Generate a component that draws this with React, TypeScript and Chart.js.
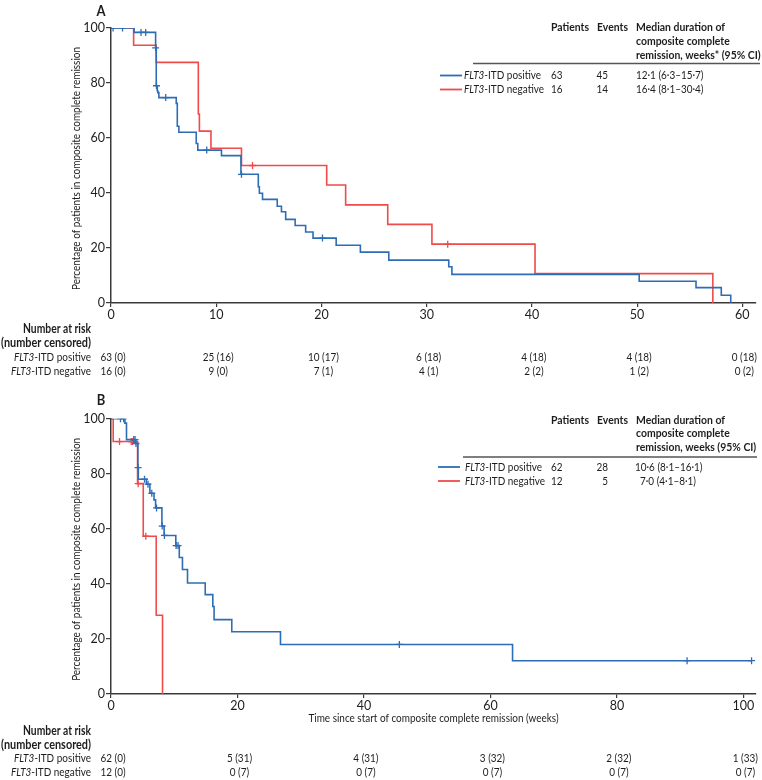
import React, { useEffect, useRef } from "react";
import { Chart, registerables } from "chart.js";

Chart.register(...registerables);

const FONT = 'Lato, "Open Sans", sans-serif';
const TEXT = "#1f1c1d";
const AXIS = "#3a3a3a";
const BLUE = "#2d6db5";
const RED = "#f04a4a";

// ---------- Panel A data ----------
const aPosTimes = [0, 2.2, 4.24, 4.3, 4.4, 4.45, 4.55, 6.2, 6.3, 6.45, 8.1, 8.25, 10.5, 12.35, 14.0, 14.1, 14.4, 15.8, 16.2, 16.6, 17.5, 18.5, 19.2, 21.4, 23.7, 26.4, 32.1, 32.4, 50.2, 55.6, 58.0, 58.9];
const aPosSurv = [100, 98.4, 92.8, 79.0, 77.2, 76.5, 74.7, 72.6, 64.3, 62.1, 58.0, 55.6, 53.6, 46.8, 42.3, 39.9, 37.7, 35.2, 33.2, 30.4, 28.2, 25.8, 23.6, 21.0, 18.5, 15.6, 13.2, 10.4, 7.9, 5.6, 2.8, 0];
const aPosCensTimes = [0.2, 1.1, 2.85, 3.3, 4.24, 4.32, 5.2, 9.1, 12.4, 20.1];
const aPosCensSurv = [100, 100, 98.4, 98.4, 92.8, 79.0, 74.7, 55.6, 46.8, 23.6];

const aNegTimes = [0, 2.15, 4.3, 8.3, 8.4, 9.5, 12.4, 20.5, 22.3, 26.3, 30.5, 40.3, 57.2];
const aNegSurv = [100, 93.75, 87.5, 68.75, 62.5, 56.25, 50.0, 42.9, 35.7, 28.6, 21.4, 10.7, 0];
const aNegCensTimes = [13.45, 32.0];
const aNegCensSurv = [50.0, 21.4];

const aXTicks = [0, 10, 20, 30, 40, 50, 60];
const aRiskTimes = [0, 10, 20, 30, 40, 50, 60];
const aRiskPos = ["63 (0)", "25 (16)", "10 (17)", "6 (18)", "4 (18)", "4 (18)", "0 (18)"];
const aRiskNeg = ["16 (0)", "9 (0)", "7 (1)", "4 (1)", "2 (2)", "1 (2)", "0 (2)"];
const aPatients = ["63", "16"];
const aEvents = ["45", "14"];
const aMedians = ["12·1 (6·3–15·7)", "16·4 (8·1–30·4)"];

// ---------- Panel B data ----------
const bPosTimes = [0, 2.2, 2.45, 3.9, 4.25, 4.32, 5.6, 6.15, 6.8, 7.05, 8.05, 8.4, 10.25, 10.8, 11.3, 12.1, 14.9, 16.1, 16.3, 19.1, 26.8, 63.5, 101.3];
const bPosSurv = [100, 98.4, 92.4, 91.0, 82.2, 78.0, 76.2, 72.9, 70.5, 67.6, 61.0, 57.6, 53.9, 49.6, 45.2, 40.3, 36.1, 31.8, 27.0, 22.6, 18.0, 12.1, 12.1];
const bPosCensTimes = [1.5, 2.0, 3.6, 3.8, 3.95, 4.28, 5.3, 5.85, 6.45, 7.2, 8.1, 8.45, 10.3, 10.6, 45.6, 91.1, 101.3];
const bPosCensSurv = [100, 100, 92.4, 92.4, 91.0, 82.2, 78.0, 76.2, 72.9, 67.6, 61.0, 57.6, 53.9, 53.9, 18.0, 12.1, 12.1];

const bNegTimes = [0, 0.35, 4.2, 5.1, 7.15, 8.15];
const bNegSurv = [100, 91.7, 76.4, 57.3, 28.6, 0];
const bNegCensTimes = [1.35, 3.2, 3.4, 4.3, 5.5];
const bNegCensSurv = [91.7, 91.7, 91.7, 76.4, 57.3];

const bXTicks = [0, 20, 40, 60, 80, 100];
const bRiskTimes = [0, 20, 40, 60, 80, 100];
const bRiskPos = ["62 (0)", "5 (31)", "4 (31)", "3 (32)", "2 (32)", "1 (33)"];
const bRiskNeg = ["12 (0)", "0 (7)", "0 (7)", "0 (7)", "0 (7)", "0 (7)"];
const bPatients = ["62", "12"];
const bEvents = ["28", "5"];
const bMedians = ["10·6 (8·1–16·1)", "7·0 (4·1–8·1)"];

const groupNames = ["-ITD positive", "-ITD negative"];
const yTitle = "Percentage of patients in composite complete remission";
const xTitleB = "Time since start of composite complete remission (weeks)";

type Panel = {
  letter: string;
  xMax: number;
  xTicks: number[];
  posT: number[]; posS: number[]; posCT: number[]; posCS: number[];
  negT: number[]; negS: number[]; negCT: number[]; negCS: number[];
  riskTimes: number[]; riskPos: string[]; riskNeg: string[];
  patients: string[]; events: string[]; medians: string[];
  headerLast: string;
  xTitle: string | null;
  top: number; bottom: number;
  lay: {
    letterY: number;
    head: number[]; rule: number; ruleX0: number; ruleX1: number; rows: number[];
    sampleX0: number; sampleX1: number; labelX: number; medianX: number[];
    risk: number[]; xTitleY: number;
  };
};

const font = (size: number, weight = "normal", style = "normal") => `${style} ${weight} ${size}px ${FONT}`;

// horizontal condensation factors, calibrated so text widths match the reference typography
let KR = 0.85;
let KB = 0.85;
function calibrate(ctx: CanvasRenderingContext2D) {
  ctx.font = font(12);
  KR = 243 / ctx.measureText(yTitle).width;
  ctx.font = font(12, "bold");
  KB = 89 / ctx.measureText("Median duration of").width;
}

function txt(ctx: CanvasRenderingContext2D, s: string, x: number, y: number, align: CanvasTextAlign, size = 12, weight = "normal", style = "normal", fitW = 0) {
  ctx.save();
  ctx.font = font(size, weight, style);
  let k = weight === "bold" ? KB : KR;
  if (fitW > 0) k = fitW / ctx.measureText(s).width;
  ctx.textAlign = align;
  ctx.textBaseline = "middle";
  ctx.translate(x, y);
  ctx.scale(k, 1);
  ctx.fillText(s, 0, 0);
  ctx.restore();
}

function width(ctx: CanvasRenderingContext2D, s: string, size = 12, weight = "normal", style = "normal") {
  ctx.font = font(size, weight, style);
  return ctx.measureText(s).width * (weight === "bold" ? KB : KR);
}

function drawGroupLabel(ctx: CanvasRenderingContext2D, x: number, y: number, rest: string, align: "left" | "right") {
  const w1 = width(ctx, "FLT3", 12, "normal", "italic");
  const w2 = width(ctx, rest, 12);
  const start = align === "left" ? x : x - w1 - w2;
  txt(ctx, "FLT3", start, y, "left", 12, "normal", "italic");
  txt(ctx, rest, start + w1, y, "left", 12);
}

function makePlugin(p: Panel) {
  return {
    id: "panelDecor" + p.letter,
    afterDraw(chart: any) {
      const ctx: CanvasRenderingContext2D = chart.ctx;
      const xs = chart.scales.x;
      const area = chart.chartArea;
      const L = p.lay;
      ctx.save();
      ctx.fillStyle = TEXT;
      calibrate(ctx);

      // panel letter
      txt(ctx, p.letter, 101, L.letterY, "center", 15, "bold");

      // y title
      ctx.save();
      ctx.translate(76, (area.top + area.bottom) / 2 + 3);
      ctx.rotate(-Math.PI / 2);
      txt(ctx, yTitle, 0, 0, "center", 12);
      ctx.restore();

      // legend table header
      txt(ctx, "Patients", 551, L.head[0], "left", 12, "bold");
      txt(ctx, "Events", 597, L.head[0], "left", 12, "bold");
      txt(ctx, "Median duration of", 636, L.head[0], "left", 12, "bold");
      txt(ctx, "composite complete", 636, L.head[1], "left", 12, "bold");
      txt(ctx, p.headerLast, 636, L.head[2], "left", 12, "bold");
      ctx.strokeStyle = "#555";
      ctx.lineWidth = 1.5;
      ctx.beginPath();
      ctx.moveTo(L.ruleX0, L.rule);
      ctx.lineTo(L.ruleX1, L.rule);
      ctx.stroke();

      const colors = [BLUE, RED];
      for (let i = 0; i < 2; i++) {
        const y = L.rows[i];
        ctx.strokeStyle = colors[i];
        ctx.lineWidth = 1.8;
        ctx.beginPath();
        ctx.moveTo(L.sampleX0, y);
        ctx.lineTo(L.sampleX1, y);
        ctx.stroke();
        drawGroupLabel(ctx, L.labelX, y, groupNames[i], "left");
        txt(ctx, p.patients[i], 551, y, "left");
        txt(ctx, p.events[i], 608, y, "right");
        txt(ctx, p.medians[i], L.medianX[i], y, "left");
      }

      // x title (panel B)
      if (p.xTitle) {
        txt(ctx, p.xTitle, (area.left + area.right) / 2, L.xTitleY, "center", 12);
      }

      // number at risk
      txt(ctx, "Number at risk", 91, L.risk[0], "right", 13, "bold", "normal", 68);
      txt(ctx, "(number censored)", 91, L.risk[1], "right", 13, "bold", "normal", 90);
      drawGroupLabel(ctx, 91, L.risk[2], groupNames[0], "right");
      drawGroupLabel(ctx, 91, L.risk[3], groupNames[1], "right");
      p.riskTimes.forEach((t, i) => {
        const x = xs.getPixelForValue(t) + 2;
        txt(ctx, p.riskPos[i], x, L.risk[2], "center");
        txt(ctx, p.riskNeg[i], x, L.risk[3], "center");
      });
      ctx.restore();
    },
  };
}

const pts = (t: number[], s: number[]) => t.map((x, i) => ({ x, y: s[i] }));

function KMChart({ p }: { p: Panel }) {
  const ref = useRef<HTMLCanvasElement | null>(null);
  useEffect(() => {
    if (!ref.current) return;
    Chart.defaults.font.family = FONT;
    const H = 390;
    const chart = new Chart(ref.current, {
      type: "line",
      data: {
        datasets: [
          { type: "line", data: pts(p.negT, p.negS), borderColor: RED, borderWidth: 1.6, stepped: "before", pointRadius: 0, fill: false, order: 4 },
          { type: "scatter", data: pts(p.negCT, p.negCS), borderColor: RED, backgroundColor: RED, pointStyle: "cross", pointRadius: 3.5, borderWidth: 1.3, showLine: false, order: 3 },
          { type: "line", data: pts(p.posT, p.posS), borderColor: BLUE, borderWidth: 1.6, stepped: "before", pointRadius: 0, fill: false, order: 2 },
          { type: "scatter", data: pts(p.posCT, p.posCS), borderColor: BLUE, backgroundColor: BLUE, pointStyle: "cross", pointRadius: 3.5, borderWidth: 1.3, showLine: false, order: 1 },
        ] as any,
      },
      options: {
        responsive: false,
        animation: false,
        devicePixelRatio: 1,
        layout: { padding: { left: 0, right: 6, top: p.top, bottom: 0 } },
        plugins: { legend: { display: false }, tooltip: { enabled: false } },
        scales: {
          x: {
            type: "linear",
            min: 0,
            max: p.xMax,
            afterBuildTicks: (s: any) => { s.ticks = p.xTicks.map((v) => ({ value: v })); },
            afterFit: (s: any) => { s.height = H - p.bottom; },
            grid: { drawOnChartArea: false, drawTicks: true, tickLength: 4, color: AXIS, lineWidth: 1.2 },
            border: { display: true, color: AXIS, width: 1.5 },
            ticks: { color: TEXT, font: { size: 12.5, family: FONT }, padding: 0, maxRotation: 0, autoSkip: false },
          },
          y: {
            type: "linear",
            min: 0,
            max: 100,
            afterBuildTicks: (s: any) => { s.ticks = [0, 20, 40, 60, 80, 100].map((v) => ({ value: v })); },
            afterFit: (s: any) => { s.width = 111; },
            grid: { drawOnChartArea: false, drawTicks: true, tickLength: 5, color: AXIS, lineWidth: 1.2 },
            border: { display: true, color: AXIS, width: 1.5 },
            ticks: { color: TEXT, font: { size: 12.5, family: FONT }, padding: 1 },
          },
        },
      } as any,
      plugins: [makePlugin(p)],
    });
    return () => chart.destroy();
  }, [p]);
  return <canvas ref={ref} width={762} height={390} style={{ display: "block", width: 762, height: 390 }} />;
}

const panelA: Panel = {
  letter: "A", xMax: 61.3, xTicks: aXTicks,
  posT: aPosTimes, posS: aPosSurv, posCT: aPosCensTimes, posCS: aPosCensSurv,
  negT: aNegTimes, negS: aNegSurv, negCT: aNegCensTimes, negCS: aNegCensSurv,
  riskTimes: aRiskTimes, riskPos: aRiskPos, riskNeg: aRiskNeg,
  patients: aPatients, events: aEvents, medians: aMedians,
  headerLast: "remission, weeks* (95% CI)", xTitle: null,
  top: 28, bottom: 303,
  lay: {
    letterY: 11,
    head: [27.5, 41.5, 55.2], rule: 63.5, ruleX0: 473, ruleX1: 760, rows: [75.5, 89.5],
    sampleX0: 440, sampleX1: 462, labelX: 464, medianX: [636, 636],
    risk: [329.3, 342.7, 357.3, 370.7], xTitleY: 0,
  },
};

const panelB: Panel = {
  letter: "B", xMax: 102, xTicks: bXTicks,
  posT: bPosTimes, posS: bPosSurv, posCT: bPosCensTimes, posCS: bPosCensSurv,
  negT: bNegTimes, negS: bNegSurv, negCT: bNegCensTimes, negCS: bNegCensSurv,
  riskTimes: bRiskTimes, riskPos: bRiskPos, riskNeg: bRiskNeg,
  patients: bPatients, events: bEvents, medians: bMedians,
  headerLast: "remission, weeks (95% CI)", xTitle: xTitleB,
  top: 28.7, bottom: 304,
  lay: {
    letterY: 10,
    head: [30, 43.5, 57], rule: 67, ruleX0: 463, ruleX1: 757, rows: [77, 91],
    sampleX0: 438, sampleX1: 460, labelX: 465, medianX: [635, 640],
    risk: [341, 354.5, 368.5, 382], xTitleY: 328,
  },
};

export default function App() {
  return (
    <div style={{ position: "absolute", left: 0, top: 0, width: 762, height: 780, background: "#fff" }}>
      <KMChart p={panelA} />
      <KMChart p={panelB} />
    </div>
  );
}
